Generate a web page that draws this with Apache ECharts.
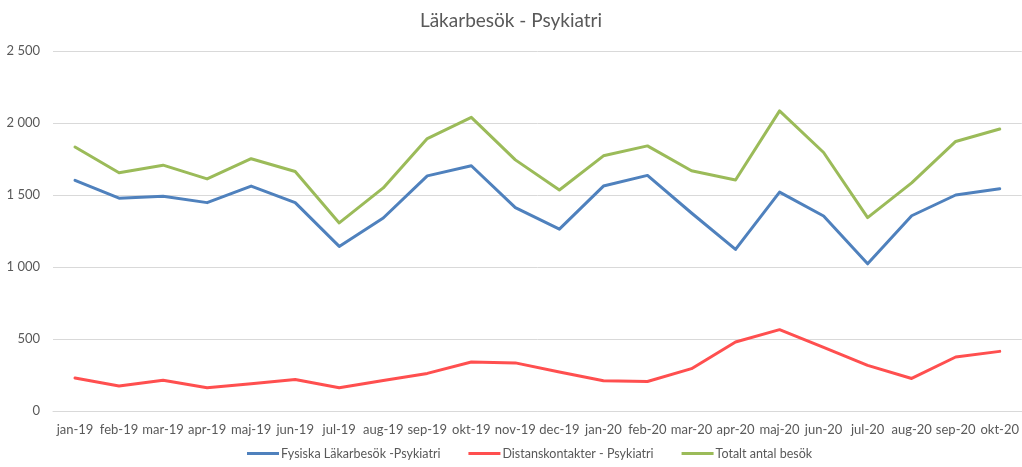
<!DOCTYPE html>
<html><head><meta charset="utf-8">
<script src="https://cdn.jsdelivr.net/npm/echarts@6/dist/echarts.min.js"></script>
<style>html,body{margin:0;padding:0;background:#fff}#c{width:1022px;height:467px}</style>
</head><body><div id="c"></div>
<script>
const categories = ['jan-19','feb-19','mar-19','apr-19','maj-19','jun-19','jul-19','aug-19','sep-19','okt-19','nov-19','dec-19','jan-20','feb-20','mar-20','apr-20','maj-20','jun-20','jul-20','aug-20','sep-20','okt-20'];
const fysiska = [1602,1478,1492,1447,1562,1447,1143,1340,1633,1703,1412,1263,1562,1636,1375,1122,1520,1354,1022,1356,1500,1543];
const distans = [229,174,214,162,190,219,162,212,261,340,334,271,210,205,294,479,565,442,317,226,375,414];
const totalt = [1833,1655,1707,1612,1752,1663,1306,1549,1892,2039,1744,1535,1772,1841,1668,1604,2084,1795,1343,1584,1872,1958];
const yTicks = {min:0, max:2500, interval:500};

const font = 'Lato, "Open Sans", sans-serif';
const chart = echarts.init(document.getElementById('c'));
function fmt(v){return String(v).replace(/\B(?=(\d{3})+(?!\d))/g,' ');}
function mk(name, data, color){
  return {name, type:'line', data, symbol:'none', smooth:false,
    lineStyle:{width:3, color, cap:'round', join:'round'}, itemStyle:{color}};
}
chart.setOption({
  animation:false,
  backgroundColor:'#fff',
  title:{text:'Läkarbesök - Psykiatri', left:'center', top:6,
    textStyle:{fontFamily:font, fontSize:19, fontWeight:'normal', color:'#595959'}},
  grid:{left:53, right:0, top:51, bottom:56},
  legend:{bottom:2, left:242, icon:'rect', itemWidth:32, itemHeight:3, itemGap:28,
    textStyle:{fontFamily:font, fontSize:12.5, color:'#595959', padding:[0,0,0,-3]},
    data:['Fysiska Läkarbesök -Psykiatri','Distanskontakter - Psykiatri','Totalt antal besök']},
  xAxis:{type:'category', data:categories, boundaryGap:true,
    axisLine:{lineStyle:{color:'#D9D9D9'}}, axisTick:{show:false},
    axisLabel:{fontFamily:font, fontSize:13, color:'#595959', margin:12, interval:0}},
  yAxis:{type:'value', min:yTicks.min, max:yTicks.max, interval:yTicks.interval,
    axisLine:{show:false}, axisTick:{show:false},
    splitLine:{lineStyle:{color:'#D9D9D9', width:1}},
    axisLabel:{fontFamily:font, fontSize:13, color:'#595959', margin:13, formatter:fmt}},
  series:[
    mk('Fysiska Läkarbesök -Psykiatri', fysiska, '#4F81BD'),
    mk('Distanskontakter - Psykiatri', distans, '#FF4F4F'),
    mk('Totalt antal besök', totalt, '#9BBB59')
  ]
});
</script></body></html>
